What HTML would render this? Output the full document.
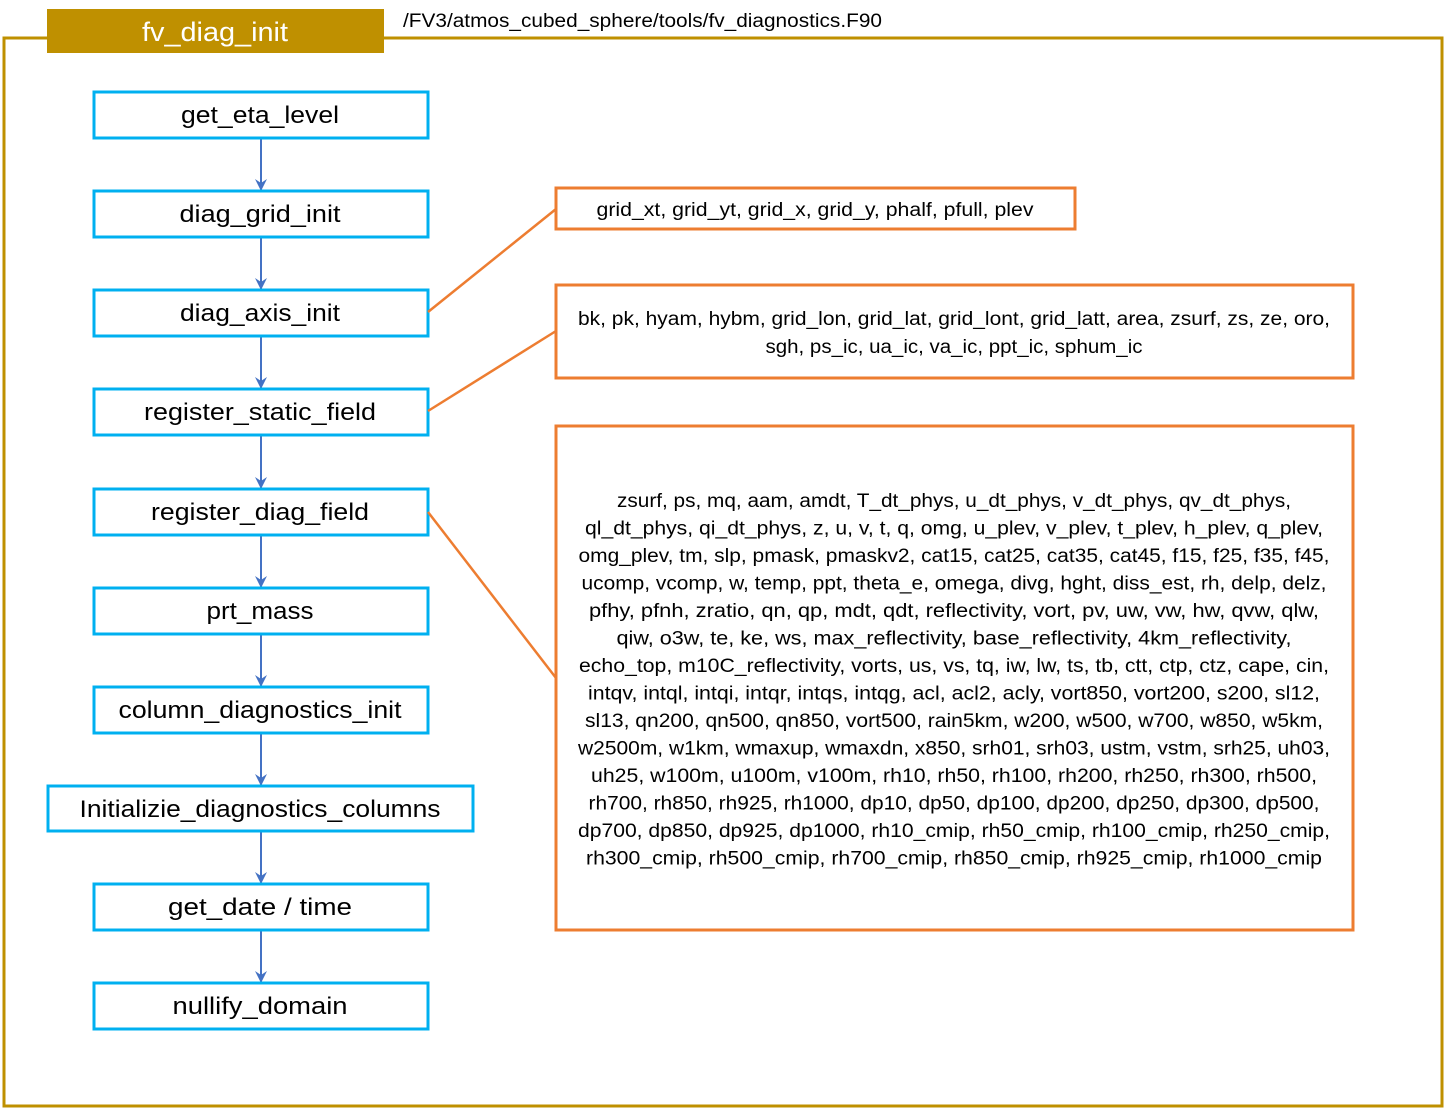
<!DOCTYPE html>
<html><head><meta charset="utf-8"><style>
html,body{margin:0;padding:0;background:#fff;}
svg{display:block;}
text{font-family:"Liberation Sans",sans-serif;fill:#000;}
</style></head><body>
<svg width="1445" height="1108" viewBox="0 0 1445 1108" xmlns="http://www.w3.org/2000/svg">
<defs>
<marker id="ar" viewBox="0 0 12 12" refX="11" refY="6" markerWidth="12" markerHeight="12" markerUnits="userSpaceOnUse" orient="auto">
<path d="M0,0 L12,6 L0,12 L4,6 Z" fill="#4472C4"/>
</marker>
</defs>
<rect x="4" y="38" width="1438" height="1068" fill="none" stroke="#BF9000" stroke-width="3"/>
<rect x="47" y="9" width="337" height="44" fill="#BF9000"/>
<text x="215" y="41" text-anchor="middle" font-size="27" style="fill:#fff" textLength="146" lengthAdjust="spacingAndGlyphs">fv_diag_init</text>
<rect x="386" y="5" width="520" height="30" fill="#fff"/>
<text x="403" y="27" font-size="19" textLength="479" lengthAdjust="spacingAndGlyphs">/FV3/atmos_cubed_sphere/tools/fv_diagnostics.F90</text>

<g stroke="#4472C4" stroke-width="2" marker-end="url(#ar)">
<line x1="261" y1="138" x2="261" y2="190"/>
<line x1="261" y1="237" x2="261" y2="289"/>
<line x1="261" y1="336" x2="261" y2="388"/>
<line x1="261" y1="435" x2="261" y2="488"/>
<line x1="261" y1="535" x2="261" y2="587"/>
<line x1="261" y1="634" x2="261" y2="686"/>
<line x1="261" y1="733" x2="261" y2="785"/>
<line x1="261" y1="831" x2="261" y2="883"/>
<line x1="261" y1="930" x2="261" y2="982"/>
</g>
<g fill="#fff" stroke="#00B0F0" stroke-width="3">
<rect x="94" y="92" width="334" height="46"/>
<rect x="94" y="191" width="334" height="46"/>
<rect x="94" y="290" width="334" height="46"/>
<rect x="94" y="389" width="334" height="46"/>
<rect x="94" y="489" width="334" height="46"/>
<rect x="94" y="588" width="334" height="46"/>
<rect x="94" y="687" width="334" height="46"/>
<rect x="48" y="786" width="425" height="45"/>
<rect x="94" y="884" width="334" height="46"/>
<rect x="94" y="983" width="334" height="46"/>
</g>
<g font-size="24" text-anchor="middle">
<text x="260" y="123" textLength="158" lengthAdjust="spacingAndGlyphs">get_eta_level</text>
<text x="260" y="222" textLength="161" lengthAdjust="spacingAndGlyphs">diag_grid_init</text>
<text x="260" y="321" textLength="160" lengthAdjust="spacingAndGlyphs">diag_axis_init</text>
<text x="260" y="420" textLength="232" lengthAdjust="spacingAndGlyphs">register_static_field</text>
<text x="260" y="520" textLength="218" lengthAdjust="spacingAndGlyphs">register_diag_field</text>
<text x="260" y="619" textLength="107" lengthAdjust="spacingAndGlyphs">prt_mass</text>
<text x="260" y="718" textLength="283" lengthAdjust="spacingAndGlyphs">column_diagnostics_init</text>
<text x="260" y="817" textLength="361" lengthAdjust="spacingAndGlyphs">Initializie_diagnostics_columns</text>
<text x="260" y="915" textLength="184" lengthAdjust="spacingAndGlyphs">get_date / time</text>
<text x="260" y="1014" textLength="175" lengthAdjust="spacingAndGlyphs">nullify_domain</text>
</g>

<g stroke="#ED7D31" stroke-width="2.5" fill="none">
<line x1="428" y1="312" x2="556" y2="209"/>
<line x1="428" y1="411" x2="556" y2="331"/>
<line x1="428" y1="512" x2="556" y2="678"/>
</g>
<g stroke="#ED7D31" stroke-width="3" fill="#fff">
<rect x="556" y="188" width="519" height="41"/>
<rect x="556" y="285" width="797" height="93"/>
<rect x="556" y="426" width="797" height="504"/>
</g>
<g font-size="19" text-anchor="middle">
<text x="815" y="216" textLength="437" lengthAdjust="spacingAndGlyphs">grid_xt, grid_yt, grid_x, grid_y, phalf, pfull, plev</text>
<text x="954" y="325" textLength="752" lengthAdjust="spacingAndGlyphs">bk, pk, hyam, hybm, grid_lon, grid_lat, grid_lont, grid_latt, area, zsurf, zs, ze, oro,</text>
<text x="954" y="353" textLength="377" lengthAdjust="spacingAndGlyphs">sgh, ps_ic, ua_ic, va_ic, ppt_ic, sphum_ic</text>
</g>
<g font-size="19" text-anchor="middle">
<text x="954" y="507" textLength="674" lengthAdjust="spacingAndGlyphs">zsurf, ps, mq, aam, amdt, T_dt_phys, u_dt_phys, v_dt_phys, qv_dt_phys,</text>
<text x="954" y="534.5" textLength="738" lengthAdjust="spacingAndGlyphs">ql_dt_phys, qi_dt_phys, z, u, v, t, q, omg, u_plev, v_plev, t_plev, h_plev, q_plev,</text>
<text x="954" y="562" textLength="751" lengthAdjust="spacingAndGlyphs">omg_plev, tm, slp, pmask, pmaskv2, cat15, cat25, cat35, cat45, f15, f25, f35, f45,</text>
<text x="954" y="589.5" textLength="745" lengthAdjust="spacingAndGlyphs">ucomp, vcomp, w, temp, ppt, theta_e, omega, divg, hght, diss_est, rh, delp, delz,</text>
<text x="954" y="617" textLength="730" lengthAdjust="spacingAndGlyphs">pfhy, pfnh, zratio, qn, qp, mdt, qdt, reflectivity, vort, pv, uw, vw, hw, qvw, qlw,</text>
<text x="954" y="644.5" textLength="675" lengthAdjust="spacingAndGlyphs">qiw, o3w, te, ke, ws, max_reflectivity, base_reflectivity, 4km_reflectivity,</text>
<text x="954" y="672" textLength="750" lengthAdjust="spacingAndGlyphs">echo_top, m10C_reflectivity, vorts, us, vs, tq, iw, lw, ts, tb, ctt, ctp, ctz, cape, cin,</text>
<text x="954" y="699.5" textLength="732" lengthAdjust="spacingAndGlyphs">intqv, intql, intqi, intqr, intqs, intqg, acl, acl2, acly, vort850, vort200, s200, sl12,</text>
<text x="954" y="727" textLength="738" lengthAdjust="spacingAndGlyphs">sl13, qn200, qn500, qn850, vort500, rain5km, w200, w500, w700, w850, w5km,</text>
<text x="954" y="754.5" textLength="752" lengthAdjust="spacingAndGlyphs">w2500m, w1km, wmaxup, wmaxdn, x850, srh01, srh03, ustm, vstm, srh25, uh03,</text>
<text x="954" y="782" textLength="726" lengthAdjust="spacingAndGlyphs">uh25, w100m, u100m, v100m, rh10, rh50, rh100, rh200, rh250, rh300, rh500,</text>
<text x="954" y="809.5" textLength="731" lengthAdjust="spacingAndGlyphs">rh700, rh850, rh925, rh1000, dp10, dp50, dp100, dp200, dp250, dp300, dp500,</text>
<text x="954" y="837" textLength="752" lengthAdjust="spacingAndGlyphs">dp700, dp850, dp925, dp1000, rh10_cmip, rh50_cmip, rh100_cmip, rh250_cmip,</text>
<text x="954" y="864.5" textLength="736" lengthAdjust="spacingAndGlyphs">rh300_cmip, rh500_cmip, rh700_cmip, rh850_cmip, rh925_cmip, rh1000_cmip</text>
</g>
</svg>
</body></html>
